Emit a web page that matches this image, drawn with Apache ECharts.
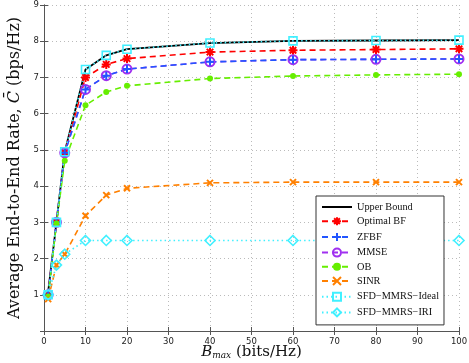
<!DOCTYPE html>
<html>
<head>
<meta charset="utf-8">
<script src="https://cdn.jsdelivr.net/npm/echarts@6/dist/echarts.min.js"></script>
<style>
  html, body { margin: 0; padding: 0; background: #fff; }
  #chart { width: 469px; height: 363px; }
</style>
</head>
<body>
<div id="chart"></div>
<script>
  // B_max values (bits/Hz)
  const bmax = [1, 3, 5, 10, 15, 20, 40, 60, 80, 100];

  const upperBound = [1.08, 3.0, 4.95, 7.22, 7.61, 7.78, 7.95, 8.01, 8.02, 8.03];
  const optimalBF  = [1.0, 3.0, 4.93, 7.0, 7.36, 7.52, 7.70, 7.75, 7.77, 7.79];
  const zfbf       = [1.0, 3.0, 4.92, 6.67, 7.05, 7.23, 7.43, 7.49, 7.50, 7.51];
  const mmse       = [1.0, 3.0, 4.92, 6.67, 7.05, 7.23, 7.43, 7.49, 7.50, 7.51];
  const ob         = [0.95, 2.97, 4.70, 6.23, 6.60, 6.77, 6.97, 7.04, 7.07, 7.09];
  const sinr       = [0.88, 1.82, 2.12, 3.18, 3.75, 3.94, 4.09, 4.11, 4.11, 4.11];
  const sfdIdeal   = [1.0, 3.0, 4.95, 7.22, 7.61, 7.78, 7.95, 8.01, 8.02, 8.03];
  const sfdIri     = [1.0, 1.82, 2.12, 2.5, 2.5, 2.5, 2.5, 2.5, 2.5, 2.5];

  const names = ['Upper Bound', 'Optimal BF', 'ZFBF', 'MMSE', 'OB', 'SINR', 'SFD\u2212MMRS\u2212Ideal', 'SFD\u2212MMRS\u2212IRI'];

  const xTicks = [0, 10, 20, 30, 40, 50, 60, 70, 80, 90, 100];
  const yTicks = [1, 2, 3, 4, 5, 6, 7, 8, 9];

  function pairs(ys) { return bmax.map((x, i) => [x, ys[i]]); }

  const asterisk = 'path://M0,-5L0,5M-5,0L5,0M-3.6,-3.6L3.6,3.6M-3.6,3.6L3.6,-3.6';
  const plus = 'path://M0,-5L0,5M-5,0L5,0';
  const cross = 'path://M-4,-4L4,4M-4,4L4,-4';
  const dash = [6, 4];
  const serif = 'DejaVu Serif';

  function mk(name, ys, color, lineType, symbol, size, fill, bw) {
    return {
      name: name,
      type: 'line',
      data: pairs(ys),
      symbol: symbol,
      symbolSize: size,
      lineStyle: { color: color, width: 1.6, type: lineType },
      itemStyle: { color: fill, borderColor: color, borderWidth: bw },
      animation: false
    };
  }

  const series = [
    {
      name: names[0], type: 'line', data: pairs(upperBound),
      symbol: 'none', symbolSize: 0, showSymbol: false,
      lineStyle: { color: '#000', width: 1.8, type: 'solid' },
      itemStyle: { color: '#000', opacity: 0 }
    },
    mk(names[1], optimalBF, '#ff0000', dash, asterisk, 9, 'none', 2),
    mk(names[3], mmse, '#a030f0', dash, 'circle', 9, 'none', 2),
    mk(names[2], zfbf, '#2255ff', dash, plus, 8, 'none', 2),
    mk(names[4], ob, '#66ee00', dash, 'circle', 6, '#66ee00', 0),
    mk(names[5], sinr, '#ff8000', dash, cross, 6, 'none', 2),
    mk(names[6], sfdIdeal, '#40f0ff', [1.5, 3], 'rect', 8, 'none', 1.6),
    mk(names[7], sfdIri, '#40f0ff', [1.5, 3], 'diamond', 10, 'none', 1.6)
  ];

  const chart = echarts.init(document.getElementById('chart'));
  const option = {
    backgroundColor: '#fff',
    animation: false,
    grid: { left: 44, right: 10, top: 5, bottom: 32, containLabel: false, outerBoundsMode: 'none' },
    legend: {
      data: names,
      orient: 'vertical',
      left: 316,
      top: 196,
      itemWidth: 30,
      itemHeight: 10,
      itemGap: 2.7,
      padding: [6, 5, 6, 5],
      borderColor: '#333',
      borderWidth: 1,
      backgroundColor: '#fff',
      textStyle: { fontFamily: 'Liberation Serif', fontSize: 10.3, color: '#111' }
    },
    xAxis: [{
      type: 'value', min: 0, max: 100, interval: 10,
      name: '{b|B}{s|max}{n| (bits/Hz)}',
      nameLocation: 'middle', nameGap: 13, nameMoveOverlap: false,
      nameTextStyle: {
        lineHeight: 16,
        rich: {
          b: { fontFamily: serif, fontStyle: 'italic', fontSize: 15, color: '#111', lineHeight: 16 },
          s: { fontFamily: serif, fontStyle: 'italic', fontSize: 9, color: '#111', lineHeight: 16, verticalAlign: 'bottom' },
          n: { fontFamily: serif, fontSize: 15, color: '#111', lineHeight: 16 }
        }
      },
      axisLine: { lineStyle: { color: '#555' } },
      axisTick: { inside: true, length: 4, lineStyle: { color: '#555' } },
      axisLabel: { fontFamily: 'DejaVu Sans', fontSize: 8.5, color: '#222', margin: 6,
        formatter: v => xTicks.indexOf(v) >= 0 ? String(v) : '' },
      splitLine: { show: true, lineStyle: { color: '#bbb', type: [1, 3] } }
    }, {
      type: 'value', min: 0, max: 100, interval: 10, position: 'top',
      axisLine: { show: true, lineStyle: { color: '#555' } },
      axisTick: { inside: true, length: 4, lineStyle: { color: '#555' } },
      axisLabel: { show: false }, splitLine: { show: false }
    }],
    yAxis: [{
      type: 'value', min: 0, max: 9, interval: 1,
      name: '{n|Average End-to-End Rate, }{i|C\u0304}{n| (bps/Hz)}',
      nameLocation: 'middle', nameGap: 21, nameRotate: 90, nameMoveOverlap: false,
      nameTextStyle: {
        rich: {
          n: { fontFamily: serif, fontSize: 16, color: '#111' },
          i: { fontFamily: serif, fontStyle: 'italic', fontSize: 16, color: '#111' }
        }
      },
      axisLine: { show: true, lineStyle: { color: '#555' } },
      axisTick: { inside: true, length: 4, lineStyle: { color: '#555' } },
      axisLabel: { fontFamily: 'DejaVu Sans', fontSize: 8.5, color: '#222', margin: 5,
        formatter: v => yTicks.indexOf(v) >= 0 ? String(v) : '' },
      splitLine: { show: true, lineStyle: { color: '#bbb', type: [1, 3] } }
    }, {
      type: 'value', min: 0, max: 9, interval: 1, position: 'right',
      axisLine: { show: true, lineStyle: { color: '#555' } },
      axisTick: { inside: true, length: 4, lineStyle: { color: '#555' } },
      axisLabel: { show: false }, splitLine: { show: false }
    }],
    series: series
  };
  chart.setOption(option);
</script>
</body>
</html>
